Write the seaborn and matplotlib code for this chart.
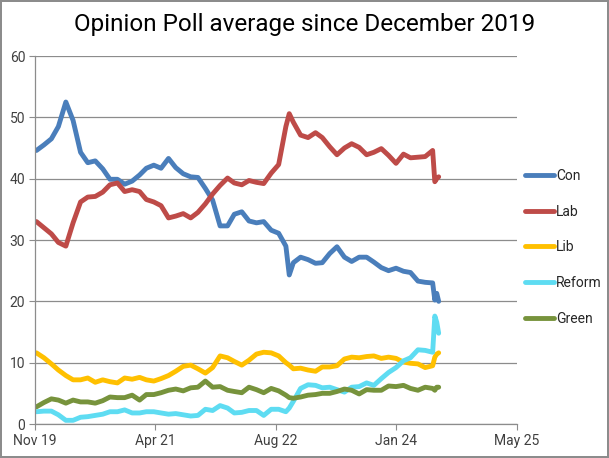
import pandas as pd
import matplotlib.pyplot as plt
import matplotlib.dates as mdates
import seaborn as sns
import numpy as np

# monthly poll averages from Dec 2019, plus the Truss spike and the June 2024 campaign
poll_dates = list(pd.date_range('2019-12-01', '2024-06-01', freq='MS'))
poll_dates.insert(35, pd.Timestamp('2022-10-15'))
poll_dates += [pd.Timestamp('2024-06-10'), pd.Timestamp('2024-06-18'), pd.Timestamp('2024-06-26')]

con = [44.6, 45.5, 46.5, 48.5, 52.5, 49.5, 44.3, 42.6, 42.9, 41.6,
       39.9, 39.9, 39.1, 39.6, 40.6, 41.7, 42.2, 41.7, 43.3, 41.8,
       40.8, 40.3, 40.2, 38.4, 36.5, 32.3, 32.3, 34.2, 34.6, 33.1,
       32.8, 33.0, 31.6, 31.1, 29.0, 24.3,
       26.3, 27.2, 26.8, 26.2, 26.3, 27.8, 28.9, 27.2, 26.5, 27.2,
       27.2, 26.4, 25.5, 25.0, 25.4, 24.9, 24.7, 23.3, 23.1, 23.0,
       20.2, 21.3, 20.0]
lab = [33.0, 32.0, 31.0, 29.6, 29.0, 32.8, 36.2, 37.0, 37.1, 37.8,
       39.0, 39.3, 37.9, 38.2, 37.9, 36.6, 36.2, 35.6, 33.6, 33.9,
       34.3, 33.6, 34.5, 35.9, 37.5, 38.9, 40.1, 39.3, 39.0, 39.7,
       39.4, 39.2, 40.9, 42.3, 48.5, 50.6,
       49.2, 47.1, 46.7, 47.5, 46.7, 45.2, 43.9, 45.0, 45.7, 45.1,
       43.9, 44.3, 44.9, 43.8, 42.5, 44.0, 43.4, 43.5, 43.6, 44.6,
       39.5, 40.0, 40.3]
lib = [11.6, 10.8, 9.8, 8.8, 7.9, 7.2, 7.2, 7.5, 6.8, 7.2,
       6.9, 6.7, 7.5, 7.3, 7.6, 7.2, 7.0, 7.4, 7.9, 8.6,
       9.4, 9.6, 9.0, 8.3, 9.2, 11.1, 10.8, 10.2, 9.6, 10.4,
       11.4, 11.7, 11.6, 11.1, 10.0, 9.6,
       9.0, 9.1, 8.8, 8.6, 9.3, 9.3, 9.5, 10.6, 10.9, 10.8,
       11.0, 11.1, 10.7, 10.9, 10.7, 10.1, 9.9, 9.8, 9.2, 9.5,
       10.9, 11.4, 11.6]
reform = [2.0, 2.1, 2.1, 1.5, 0.6, 0.6, 1.1, 1.2, 1.4, 1.6,
          2.0, 2.0, 2.3, 1.8, 1.8, 2.0, 2.0, 1.8, 1.6, 1.7,
          1.5, 1.3, 1.4, 2.4, 2.2, 3.0, 2.6, 1.8, 1.9, 2.2,
          2.2, 1.4, 2.4, 2.4, 2.0, 2.6,
          3.7, 5.8, 6.4, 6.3, 5.9, 6.0, 5.6, 5.2, 6.0, 6.1,
          6.7, 6.3, 7.4, 8.4, 9.2, 10.3, 10.8, 12.1, 12.0, 11.7,
          17.6, 16.6, 14.8]
green = [2.8, 3.5, 4.1, 3.9, 3.4, 3.9, 3.6, 3.6, 3.4, 3.8,
         4.4, 4.3, 4.3, 4.7, 3.9, 4.8, 4.8, 5.1, 5.5, 5.7,
         5.4, 5.9, 6.0, 7.0, 6.0, 6.1, 5.5, 5.3, 5.1, 6.0,
         5.6, 5.1, 5.8, 5.4, 4.7, 4.3,
         4.2, 4.4, 4.7, 4.8, 5.0, 5.0, 5.3, 5.7, 5.5, 4.9,
         5.6, 5.5, 5.5, 6.2, 6.1, 6.3, 5.8, 5.5, 6.0, 5.8,
         5.5, 6.0, 6.0]

parties = ['Con', 'Lab', 'Lib', 'Reform', 'Green']
colors = {'Con': '#4A7EBB', 'Lab': '#BE4B48', 'Lib': '#FFC000',
          'Reform': '#5EDCF2', 'Green': '#77933C'}

df = pd.DataFrame({'date': poll_dates, 'Con': con, 'Lab': lab, 'Lib': lib,
                   'Reform': reform, 'Green': green})
df_long = df.melt(id_vars='date', var_name='party', value_name='share')

sns.set_style('white')
plt.rcParams['font.family'] = ['Roboto', 'DejaVu Sans']

fig = plt.figure(figsize=(6.09, 4.58), dpi=100, edgecolor='#8c8c8c', linewidth=1.5)
ax = fig.add_axes([35 / 609, 1 - 424 / 458, 482 / 609, 368 / 458])

sns.lineplot(data=df_long, x='date', y='share', hue='party', hue_order=parties,
             palette=colors, linewidth=3.5, ax=ax, legend=True,
             solid_capstyle='round', solid_joinstyle='round')

# x axis: Excel style date axis, 500 day major unit
start = pd.Timestamp('2019-11-25')
ticks = [start + pd.Timedelta(days=500 * i) for i in range(5)]
ax.set_xlim(start, ticks[-1])
ax.set_xticks(ticks)
ax.xaxis.set_major_formatter(mdates.DateFormatter('%b %y'))
ax.set_ylim(0, 60)
ax.set_yticks(np.arange(0, 61, 10))
ax.yaxis.grid(True, color='#8c8c8c', linewidth=0.9)
ax.set_axisbelow(True)
ax.tick_params(axis='both', which='both', length=4, color='#8c8c8c',
               labelsize=10, labelcolor='#404040', direction='out', pad=3)
ax.tick_params(axis='x', bottom=True)
ax.tick_params(axis='y', left=True)
for side in ['top', 'right']:
    ax.spines[side].set_visible(False)
for side in ['left', 'bottom']:
    ax.spines[side].set_color('#8c8c8c')
    ax.spines[side].set_linewidth(0.9)
ax.set_xlabel('')
ax.set_ylabel('')

leg = ax.legend(loc='upper left', bbox_to_anchor=(1.005, 0.708), frameon=False,
                borderaxespad=0, fontsize=10, handlelength=2.1, handletextpad=0.15,
                labelspacing=1.56)
for line in leg.get_lines():
    line.set_linewidth(3.5)
    line.set_solid_capstyle('round')

fig.suptitle('Opinion Poll average since December 2019', y=0.972, fontsize=17.5,
             color='black')

plt.savefig('out.png', dpi=100)
